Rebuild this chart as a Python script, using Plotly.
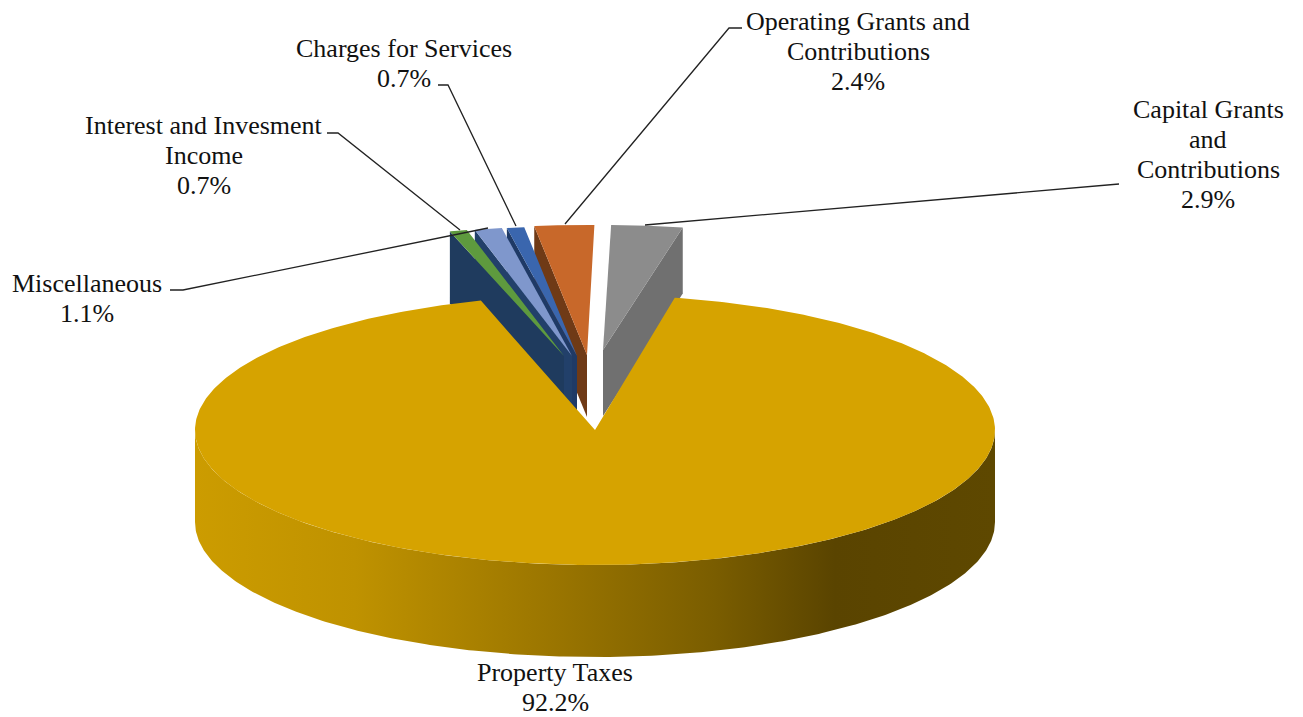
import numpy as np
import plotly.graph_objects as go

# ---- data (clockwise order, starting at the big slice) ----
categories = ["Property Taxes", "Interest and Invesment Income", "Miscellaneous",
              "Charges for Services", "Operating Grants and Contributions",
              "Capital Grants and Contributions"]
shares = [92.2, 0.7, 1.1, 0.7, 2.4, 2.9]
label_lines = [["Property Taxes"], ["Interest and Invesment", "Income"], ["Miscellaneous"],
               ["Charges for Services"], ["Operating Grants and", "Contributions"],
               ["Capital Grants", "and", "Contributions"]]

# ---- styles ----
top_colors = ["#D6A300", "#5E9A3E", "#7F97CC", "#3A66AE", "#C8682A", "#8C8C8C"]
wall_colors = [None, "#1F3B5E", "#22406A", "#1F3A66", "#6F3A16", "#707070"]
apex_x = [595, 564, 572, 577, 587, 603]
apex_y = [430, 356, 356, 356, 355, 350]
radius_x = [400, 400, 400, 400, 400, 400]
radius_y = [135, 130, 130, 130, 130, 125]
depth = [92, 72, 66, 66, 62, 66]
start_deg = 11.5
label_x = [555, 204, 87, 404, 858, 1208]
label_first_y = [672, 125, 283, 48, 21, 109]
line_gap = 30
leaders = {
    "Interest and Invesment Income": ([327, 338, 460], [133, 133, 230]),
    "Miscellaneous": ([170, 183, 488], [290, 290, 228]),
    "Charges for Services": ([438, 448, 516], [85, 85, 226]),
    "Operating Grants and Contributions": ([742, 729, 565], [28, 28, 224]),
    "Capital Grants and Contributions": ([1119, 645], [184, 225]),
}

# ---- projected geometry from the shares ----
angles = np.cumsum([0] + [s / sum(shares) * 360 for s in shares]) + start_deg


def rim(i, a0, a1, n=200):
    t = np.radians(np.linspace(a0, a1, n))
    return apex_x[i] + radius_x[i] * np.sin(t), apex_y[i] - radius_y[i] * np.cos(t)


fig = go.Figure()


def poly(x, y, color=None, name="", **kw):
    args = dict(x=list(x), y=list(y), mode="lines", line=dict(width=0), fill="toself",
                name=name, hoverinfo="name", showlegend=False)
    if color:
        args["fillcolor"] = color
    args.update(kw)
    fig.add_trace(go.Scatter(**args))


# small exploded slices, far right first so nearer ones overlap correctly
for i in range(5, 0, -1):
    a0, a1 = angles[i], angles[i + 1]
    x, y = rim(i, a0, a1)
    name = categories[i]
    if i == 5:  # wall on the right cut edge
        wx = [apex_x[i], x[-1], x[-1], apex_x[i]]
        wy = [apex_y[i], y[-1], y[-1] + depth[i], apex_y[i] + depth[i]]
    else:       # wall on the left cut edge
        wx = [apex_x[i], x[0], x[0], apex_x[i]]
        wy = [apex_y[i], y[0], y[0] + depth[i], apex_y[i] + depth[i]]
    poly(wx, wy, wall_colors[i], name)
    poly([apex_x[i], *x], [apex_y[i], *y], top_colors[i], name)

# big slice: gradient side wall, then flat top
ax, ay = rim(0, 90, 270, 300)
poly(list(ax) + list(ax[::-1]), list(ay) + list(ay[::-1] + depth[0]), name=categories[0],
     fillgradient=dict(type="horizontal", colorscale=[
         [0.0, "#CC9C00"], [0.2, "#BF9200"], [0.45, "#9A7500"],
         [0.65, "#7A5D00"], [0.8, "#5A4400"], [1.0, "#5E4800"]]))
x, y = rim(0, angles[0], angles[1], 500)
poly([apex_x[0], *x], [apex_y[0], *y], top_colors[0], categories[0])

# leader lines
for name, (lx, ly) in leaders.items():
    fig.add_trace(go.Scatter(x=lx, y=ly, mode="lines", hoverinfo="skip", showlegend=False,
                             line=dict(color="#222222", width=1.3)))

# labels, one annotation per line to hold the reference's line spacing
for lines, v, lxp, ly0 in zip(label_lines, shares, label_x, label_first_y):
    for k, txt in enumerate([*lines, f"{v}%"]):
        fig.add_annotation(x=lxp, y=ly0 + k * line_gap, text=txt, showarrow=False,
                           xanchor="center", yanchor="middle",
                           font=dict(family="Liberation Serif", size=26, color="#111111"))

fig.update_layout(
    width=1303, height=717, margin=dict(l=0, r=0, t=0, b=0),
    paper_bgcolor="white", plot_bgcolor="white", showlegend=False,
    xaxis=dict(range=[0, 1303], visible=False, fixedrange=True),
    yaxis=dict(range=[717, 0], visible=False, fixedrange=True),
)
fig.write_html("out.html", config=dict(displayModeBar=False),
               post_script="document.body.style.margin='0';")
